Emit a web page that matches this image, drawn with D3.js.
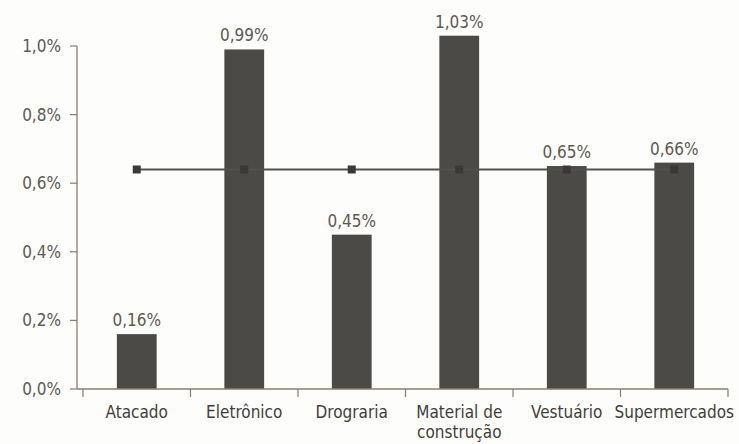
<!DOCTYPE html>
<html>
<head>
<meta charset="utf-8">
<script src="https://cdn.jsdelivr.net/npm/d3@7"></script>
<style>
  body { margin: 0; background: #fdfdfb; }
  text { font-family: "Liberation Sans Narrow", "DejaVu Sans Condensed", sans-serif; }
</style>
</head>
<body>
<svg id="chart" width="739" height="444"></svg>
<script>
var categories = ["Atacado", "Eletrônico", "Drograria", "Material de\nconstrução", "Vestuário", "Supermercados"];
var barValues = [0.16, 0.99, 0.45, 1.03, 0.65, 0.66];
var lineValues = [0.64, 0.64, 0.64, 0.64, 0.64, 0.64];
var yTicks = [0, 0.2, 0.4, 0.6, 0.8, 1.0];

var pt = d3.formatLocale({ decimal: ",", thousands: ".", grouping: [3], currency: ["R$", ""] });
var fmt1 = pt.format(".1f"), fmt2 = pt.format(".2f");

var svg = d3.select("#chart");
var textColor = "#5f5853", axisColor = "#8c7c72", barColor = "#4b4a47";

var x = d3.scaleBand()
    .domain(categories)
    .range([83, 728])
    .padding(0);

var y = d3.scaleLinear()
    .domain([0, 1.0])
    .range([389, 46]);

var barW = x.bandwidth() * 0.37;

// y axis
svg.append("line")
    .attr("x1", 77).attr("x2", 77)
    .attr("y1", y(1.0)).attr("y2", y(0))
    .attr("stroke", axisColor).attr("stroke-width", 1.3);

var yt = svg.selectAll(".ytick")
    .data(yTicks)
    .enter().append("g")
    .attr("transform", d => "translate(0," + y(d) + ")");
yt.append("line")
    .attr("x1", 70).attr("x2", 77)
    .attr("stroke", axisColor).attr("stroke-width", 1.2);
yt.append("text")
    .attr("x", 61).attr("dy", "0.35em")
    .attr("text-anchor", "end")
    .attr("font-size", 17)
    .attr("fill", textColor)
    .text(d => fmt1(d) + "%");

// bars
svg.selectAll(".bar")
    .data(barValues)
    .enter().append("rect")
    .attr("x", (d, i) => x(categories[i]) + x.bandwidth() / 2 - barW / 2)
    .attr("y", d => y(d))
    .attr("width", barW)
    .attr("height", d => y(0) - y(d))
    .attr("fill", barColor);

// value labels
svg.selectAll(".vlabel")
    .data(barValues)
    .enter().append("text")
    .attr("x", (d, i) => x(categories[i]) + x.bandwidth() / 2)
    .attr("y", d => y(d) - 8)
    .attr("text-anchor", "middle")
    .attr("font-size", 17)
    .attr("fill", textColor)
    .text(d => fmt2(d) + "%");

// x axis
svg.append("line")
    .attr("x1", 77).attr("x2", x.range()[1])
    .attr("y1", y(0)).attr("y2", y(0))
    .attr("stroke", axisColor).attr("stroke-width", 1.3);

var edges = categories.map(c => x(c)).concat([x.range()[1]]);
svg.selectAll(".xtick")
    .data(edges)
    .enter().append("line")
    .attr("x1", d => d).attr("x2", d => d)
    .attr("y1", y(0)).attr("y2", y(0) + 8)
    .attr("stroke", axisColor).attr("stroke-width", 1.2);

var cl = svg.selectAll(".clabel")
    .data(categories)
    .enter().append("text")
    .attr("x", d => x(d) + x.bandwidth() / 2)
    .attr("y", 418)
    .attr("text-anchor", "middle")
    .attr("font-size", 17)
    .attr("fill", "#433e3a");
cl.selectAll("tspan")
    .data(d => d.split("\n"))
    .enter().append("tspan")
    .attr("x", function () { return d3.select(this.parentNode).attr("x"); })
    .attr("dy", (d, i) => i ? 20 : 0)
    .text(d => d);

// average line
var line = d3.line()
    .x((d, i) => x(categories[i]) + x.bandwidth() / 2)
    .y(d => y(d));
svg.append("path")
    .datum(lineValues)
    .attr("d", line)
    .attr("fill", "none")
    .attr("stroke", "#55504b")
    .attr("stroke-width", 2);
svg.selectAll(".mark")
    .data(lineValues)
    .enter().append("rect")
    .attr("x", (d, i) => x(categories[i]) + x.bandwidth() / 2 - 4)
    .attr("y", d => y(d) - 4)
    .attr("width", 8).attr("height", 8)
    .attr("fill", "#3b3836");
</script>
</body>
</html>
